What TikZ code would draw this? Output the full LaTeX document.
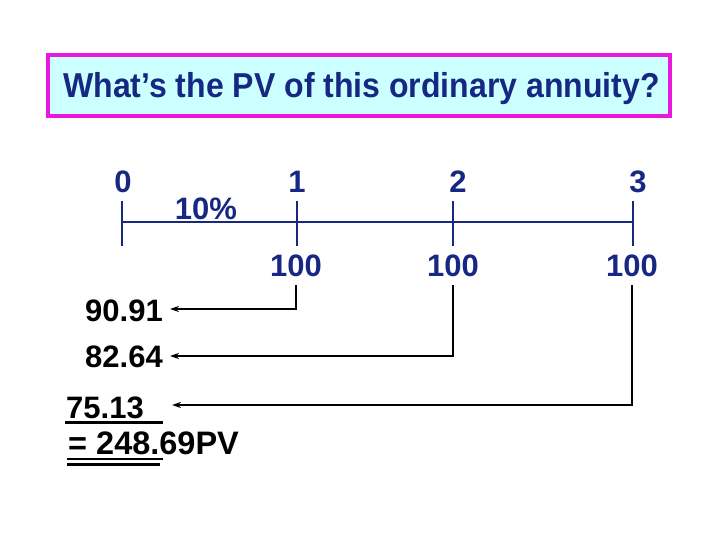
\documentclass[tikz,border=0pt]{standalone}
\usepackage{fontspec}
\setmainfont{Liberation Sans}
\usetikzlibrary{arrows.meta}
\definecolor{navy}{RGB}{22,40,130}
\definecolor{boxfill}{RGB}{204,255,255}
\definecolor{boxedge}{RGB}{232,24,220}
\begin{document}
\begin{tikzpicture}[x=1bp,y=-1bp,
  lbl/.style={font=\fontsize{31bp}{31bp}\selectfont\bfseries, text=navy, inner sep=0pt},
  val/.style={font=\fontsize{31bp}{31bp}\selectfont\bfseries, text=black, inner sep=0pt},
  tline/.style={draw=navy, line width=2bp},
  conn/.style={draw=black, line width=1.5bp, -{Stealth[length=9bp,width=6bp]}},
  uline/.style={draw=black, line width=2.5bp}]
\useasboundingbox (0,0) rectangle (720,540);
% title
\node[draw=boxedge, line width=4bp, fill=boxfill, minimum width=622bp, minimum height=61bp,
      inner sep=0pt] (title) at (359,85.5) {};
\node[lbl, font=\fontsize{32bp}{32bp}\selectfont\bfseries, anchor=base] (ttext) at (361.5,98)
  {\scalebox{1}[1.08]{What’s the PV of this ordinary annuity?}};
% timeline
\coordinate (t0) at (122,222);
\coordinate (t1) at (297,222);
\coordinate (t2) at (453,222);
\coordinate (t3) at (633,222);
\draw[tline] (t0) -- (t3);
\foreach \t in {t0,t1,t2,t3} \draw[tline] ([yshift=-24]\t) -- ([yshift=21]\t);
\node[lbl] (n0) at (123,181.5) {0};
\node[lbl] (n1) at (297,181.5) {1};
\node[lbl] (n2) at (458,181.5) {2};
\node[lbl] (n3) at (638,181.5) {3};
\node[lbl] (rate) at (206,209) {10\%};
\node[lbl] (c1) at (296,266) {100};
\node[lbl] (c2) at (453,266) {100};
\node[lbl] (c3) at (632,266) {100};
% present values
\node[val] (v1) at (124,311) {90.91};
\node[val] (v2) at (124,357) {82.64};
\node[val, anchor=base west] (v3) at (66,418) {75.13};
\node[val, font=\fontsize{32.5bp}{32.5bp}\selectfont\bfseries, anchor=base west] (tot) at (68,454) {= 248.69PV};
\coordinate (e1) at (170,309);
\coordinate (e2) at (170,356);
\coordinate (e3) at (172,405);
\draw[conn] ([yshift=-8]c1.south) |- (e1);
\draw[conn] ([yshift=-8]c2.south) |- (e2);
\draw[conn] ([yshift=-8]c3.south) |- (e3);
% underlines
\draw[uline] (65,422.5) -- (163,422.5);
\draw[draw=black, line width=2bp] (67,459) -- (163,459);
\draw[draw=black, line width=3.5bp] (67,464.5) -- (160,464.5);
\end{tikzpicture}
\end{document}
